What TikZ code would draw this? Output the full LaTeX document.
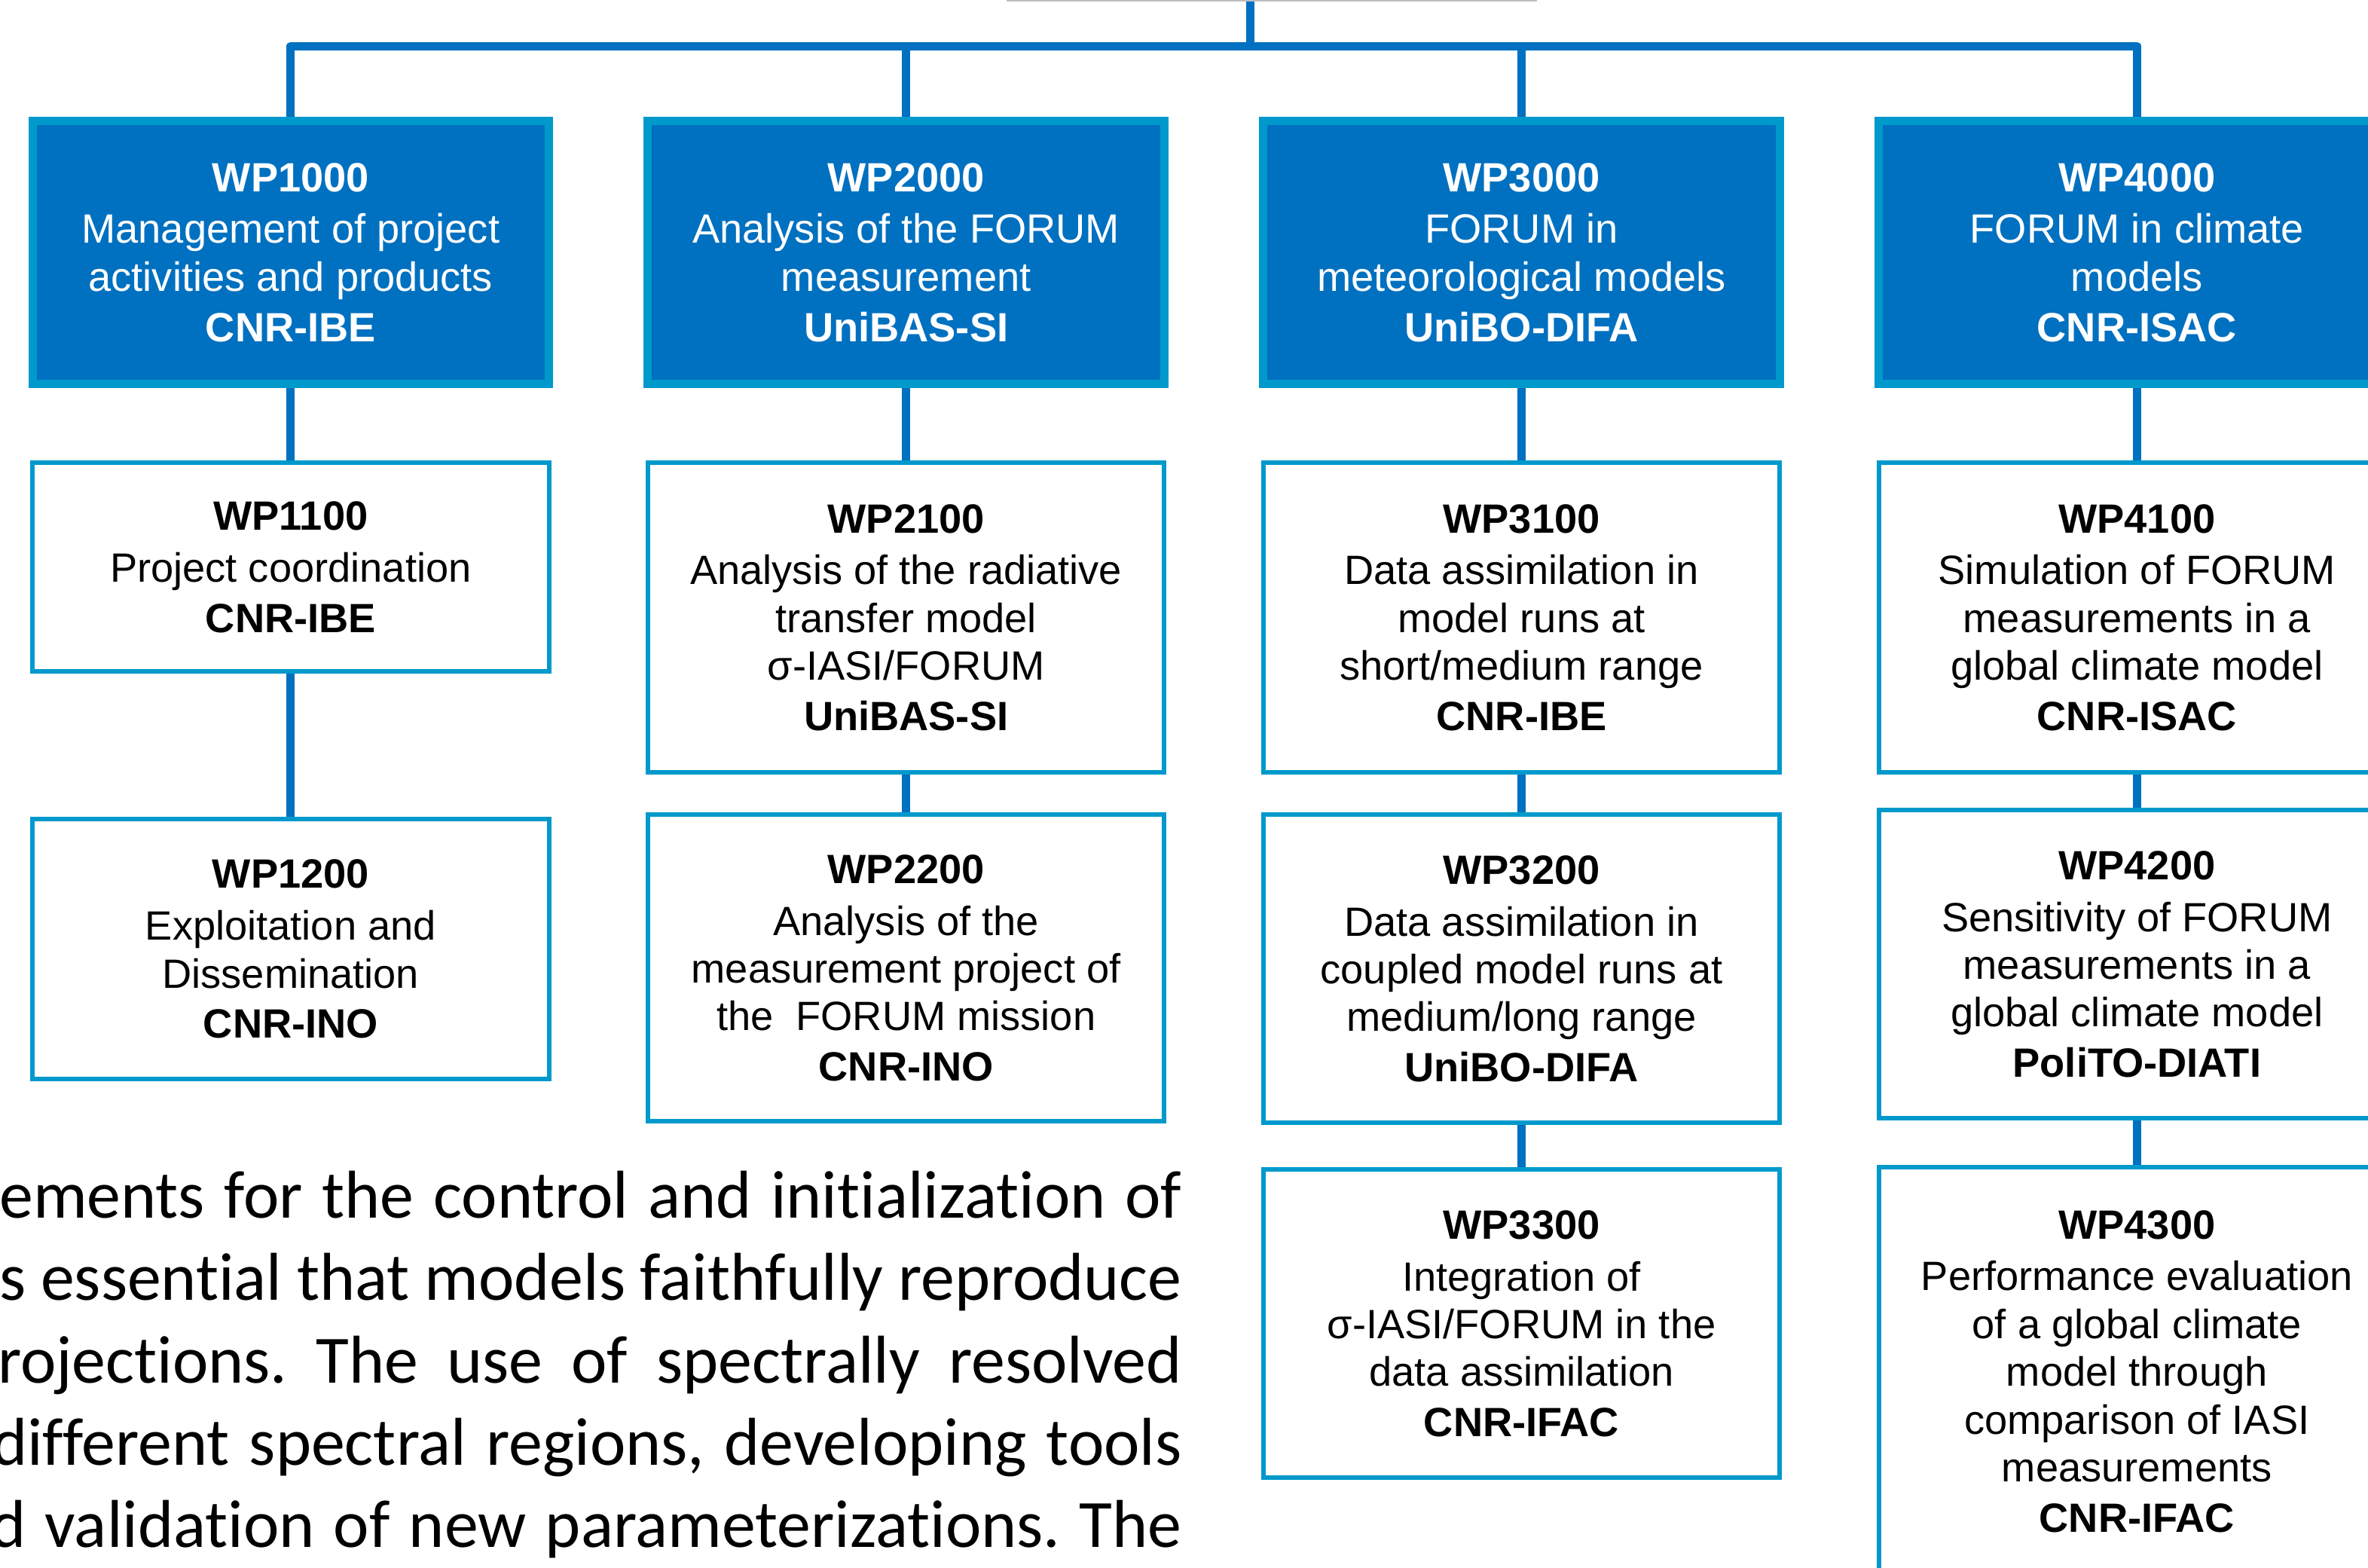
\documentclass[tikz,border=0pt]{standalone}
\usepackage{fontspec}
\setmainfont{Liberation Sans}
\newfontfamily\bodyfont{Carlito}[Ligatures=NoCommon]
\usetikzlibrary{backgrounds}

\definecolor{wpblue}{RGB}{0,112,192}
\definecolor{wpframe}{RGB}{0,153,204}
\definecolor{rootgray}{RGB}{190,190,190}

\begin{document}
\begin{tikzpicture}[
        x=0.2mm, y=-0.2mm,
        wp/.style={draw=wpframe, line width=3.1pt, fill=wpblue, text=white,
            minimum width=68.4mm, minimum height=34.8mm, inner sep=0pt,
            align=center, font=\fontsize{15.4}{18}\selectfont},
        task/.style={draw=wpframe, line width=1.7pt, fill=white, text=black,
            minimum width=68.4mm, inner sep=0pt,
            align=center, font=\fontsize{15.4}{18}\selectfont},
        rootbox/.style={draw=rootgray, line width=0.6pt, fill=white,
            minimum width=70mm, minimum height=16mm},
        link/.style={draw=wpblue, line width=3.1pt, line join=round},
        body_line/.style={anchor=base east, inner sep=0pt,
            font=\bodyfont\fontsize{25.5}{31}\selectfont\frenchspacing}
    ]

    \useasboundingbox (0,0) rectangle (1568,1038);

    % --- Root and hub ---
    \node[rootbox] (root) at (842,-39.5) {};
    \coordinate (hub) at (828,30.5);

    % --- Work packages ---
    \node[wp] (wp1000) at (192.5,167.2) {\textbf{WP1000}\\[1.5pt]Management of project\\activities and products\\[1pt]\textbf{CNR-IBE}};
    \node[wp] (wp2000) at (600,167.2) {\textbf{WP2000}\\[1.5pt]Analysis of the FORUM\\measurement\\[1pt]\textbf{UniBAS-SI}};
    \node[wp] (wp3000) at (1007.5,167.2) {\textbf{WP3000}\\[1.5pt]FORUM in\\meteorological models\\[1pt]\textbf{UniBO-DIFA}};
    \node[wp] (wp4000) at (1415,167.2) {\textbf{WP4000}\\[1.5pt]FORUM in climate\\models\\[1pt]\textbf{CNR-ISAC}};

    % Column 1
    \node[task, minimum height=27.6mm] (wp1100) at (192.5,375.5) {\textbf{WP1100}\\[1.5pt]Project coordination\\[1pt]\textbf{CNR-IBE}};
    \node[task, minimum height=34.4mm] (wp1200) at (192.5,628.5) {\textbf{WP1200}\\[1.5pt]Exploitation and\\Dissemination\\[1pt]\textbf{CNR-INO}};

    % Column 2
    \node[task, minimum height=41mm] (wp2100) at (600,409) {\textbf{WP2100}\\[1.5pt]Analysis of the radiative\\transfer model\\σ-IASI/FORUM\\[1pt]\textbf{UniBAS-SI}};
    \node[task, minimum height=40.6mm] (wp2200) at (600,641) {\textbf{WP2200}\\[1.5pt]Analysis of the\\measurement project of\\the\ \ FORUM mission\\[1pt]\textbf{CNR-INO}};

    % Column 3
    \node[task, minimum height=41mm] (wp3100) at (1007.5,409) {\textbf{WP3100}\\[1.5pt]Data assimilation in\\model runs at\\short/medium range\\[1pt]\textbf{CNR-IBE}};
    \node[task, minimum height=40.8mm] (wp3200) at (1007.5,641.5) {\textbf{WP3200}\\[1.5pt]Data assimilation in\\coupled model runs at\\medium/long range\\[1pt]\textbf{UniBO-DIFA}};
    \node[task, minimum height=40.8mm] (wp3300) at (1007.5,876.5) {\textbf{WP3300}\\[1.5pt]Integration of\\σ-IASI/FORUM in the\\data assimilation\\[1pt]\textbf{CNR-IFAC}};

    % Column 4
    \node[task, minimum height=41mm] (wp4100) at (1415,409) {\textbf{WP4100}\\[1.5pt]Simulation of FORUM\\measurements in a\\global climate model\\[1pt]\textbf{CNR-ISAC}};
    \node[task, minimum height=40.8mm] (wp4200) at (1415,638.5) {\textbf{WP4200}\\[1.5pt]Sensitivity of FORUM\\measurements in a\\global climate model\\[1pt]\textbf{PoliTO-DIATI}};
    \node[task, minimum height=54mm] (wp4300) at (1415,908) {\textbf{WP4300}\\[1.5pt]Performance evaluation\\of a global climate\\model through\\comparison of IASI\\measurements\\[1pt]\textbf{CNR-IFAC}};

    % --- Connectors, kept behind the boxes ---
    \begin{scope}[on background layer]
        \fill[white] (0,0) rectangle (1568,1038);
        \draw[link] (root.south -| hub) -- (hub);
        \draw[link] (wp1000.north) |- (hub) -| (wp4000.north);
        \draw[link] (wp2000.north) -- (wp2000.north |- hub);
        \draw[link] (wp3000.north) -- (wp3000.north |- hub);

        \draw[link] (wp1000) -- (wp1100) -- (wp1200);
        \draw[link] (wp2000) -- (wp2100) -- (wp2200);
        \draw[link] (wp3000) -- (wp3100) -- (wp3200) -- (wp3300);
        \draw[link] (wp4000) -- (wp4100) -- (wp4200) -- (wp4300);
    \end{scope}

    % --- Body text below the chart ---
    \node[body_line] (line1) at (783,806.5) {\hbox to 156.6mm{ements for the control and initialization of}};
    \node[body_line] (line2) at (783,861) {\hbox to 156.6mm{s essential that models faithfully reproduce}};
    \node[body_line] (line3) at (783,915.5) {\hbox to 156.8mm{rojections. The use of spectrally resolved}};
    \node[body_line] (line4) at (783,970) {\hbox to 157.6mm{different spectral regions, developing tools}};
    \node[body_line] (line5) at (783,1024.5) {\hbox to 157.8mm{d validation of new parameterizations. The}};

\end{tikzpicture}
\end{document}
